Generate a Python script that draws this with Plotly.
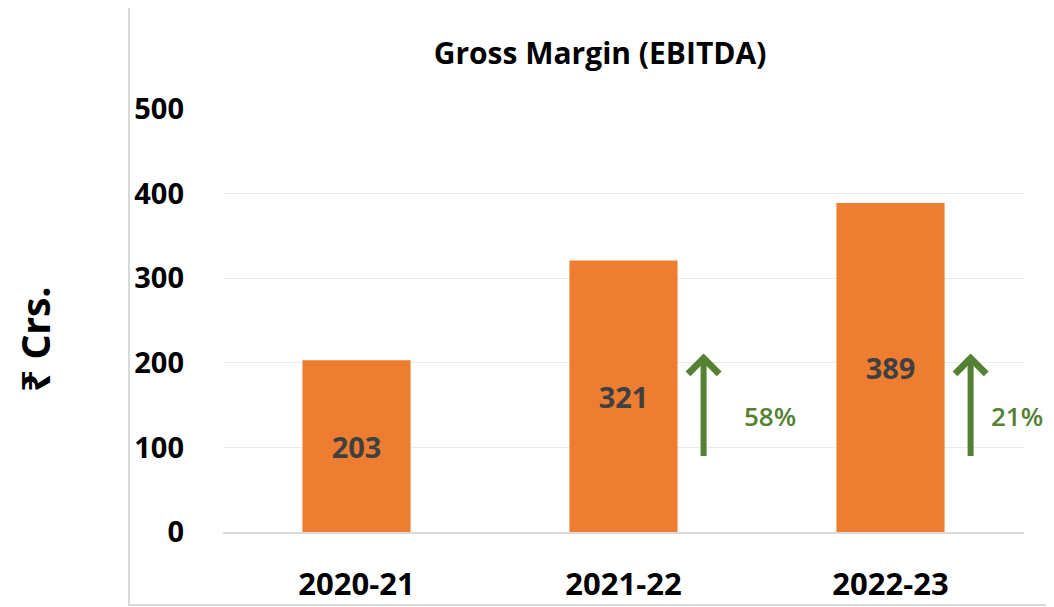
import plotly.graph_objects as go

categories = ["2020-21", "2021-22", "2022-23"]
values = [203, 321, 389]
y_ticks = [0, 100, 200, 300, 400, 500]
title_text = "Gross Margin (EBITDA)"
y_title = "₹ Crs."

BAR = "#ED7D31"
GREEN = "#548235"
FONT = "Open Sans"

# the page body adds an 8px offset; work in page pixels and convert
O = 8
W, H = 1054 - O, 607 - O
L, T = 223 - O, 109 - O
B = H - (532 - O)
R = W - (1024 - O)
PW, PH = W - L - R, H - T - B


def px(x):
    return (x - O - L) / PW


def py(y):
    return (H - B - (y - O)) / PH


fig = go.Figure()
fig.add_trace(go.Bar(
    x=categories, y=values, marker_color=BAR, marker_line_width=0,
    width=0.405, text=[str(v) for v in values], textposition="inside",
    insidetextanchor="middle",
    textfont=dict(family=FONT, size=29, color="#404040", weight="bold"),
    hoverinfo="skip", showlegend=False,
))

# growth arrows and percentages, derived from the data
for i in range(1, len(values)):
    growth = round((values[i] / values[i - 1] - 1) * 100)
    fig.add_annotation(
        x=i + 0.30, y=211, ax=i + 0.30, ay=88,
        xref="x", yref="y", axref="x", ayref="y",
        showarrow=True, arrowhead=4, arrowsize=1, arrowwidth=6,
        arrowcolor=GREEN, text="",
    )
    fig.add_annotation(
        x=i + 0.55 - 0.075 * (i - 1), y=137, xref="x", yref="y",
        text=f"{growth}%", showarrow=False,
        font=dict(family=FONT, size=26, color=GREEN, weight=600),
    )

# chart area border
fig.add_shape(type="rect", xref="paper", yref="paper",
              x0=px(129), x1=px(1070), y0=py(605), y1=py(3),
              line=dict(color="#D9D9D9", width=2), fillcolor="rgba(0,0,0,0)",
              layer="below")

fig.update_layout(
    width=W, height=H,
    margin=dict(l=L, r=R, t=T, b=B),
    paper_bgcolor="white", plot_bgcolor="white",
    title=dict(text=title_text, x=(600 - O) / W, xanchor="center",
               y=1 - (53 - O) / H, yanchor="middle",
               font=dict(family=FONT, size=30, color="#000000", weight="bold")),
    xaxis=dict(
        type="category", range=[-0.5, len(categories) - 0.5],
        showgrid=False, showline=True, linecolor="#D9D9D9",
        linewidth=2, ticks="", ticklabelstandoff=24, automargin=False,
        tickfont=dict(family=FONT, size=31, color="#000000", weight="bold"),
    ),
    yaxis=dict(
        range=[0, 500], tickvals=y_ticks, showgrid=True, gridcolor="#EBEBEB",
        gridwidth=1, zeroline=False, showline=False, ticks="",
        ticklabelstandoff=38, automargin=False,
        tickfont=dict(family=FONT, size=29, color="#000000", weight="bold"),
    ),
)

fig.add_annotation(
    x=px(34), y=py(340), xref="paper", yref="paper",
    xanchor="center", yanchor="middle",
    text=y_title, textangle=-90, showarrow=False,
    font=dict(family="Noto Sans", size=39, color="#000000", weight="bold"),
)

fig.write_html("out.html")
